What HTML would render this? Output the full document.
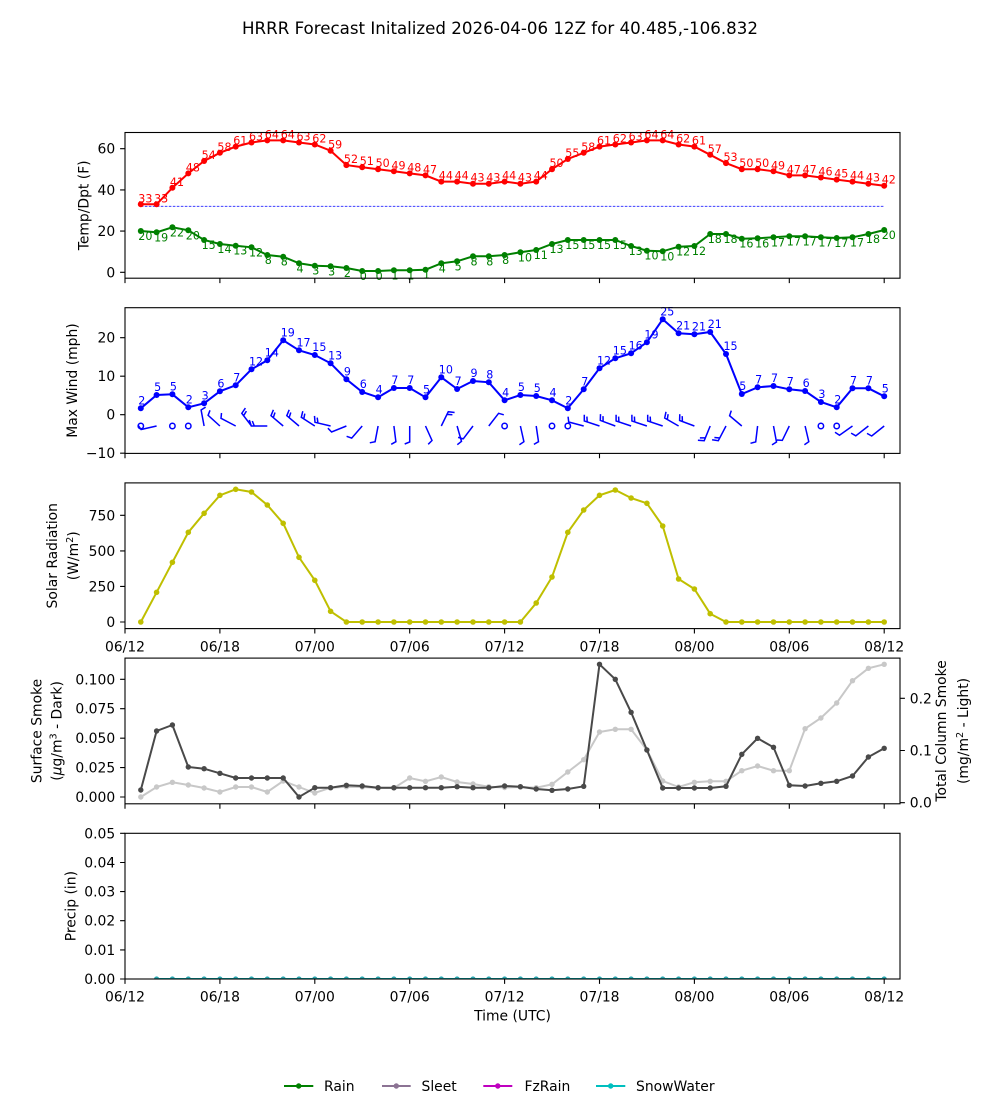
<!DOCTYPE html>
<html><head><meta charset="utf-8"><style>
html,body{margin:0;padding:0;background:#fff;}
svg{display:block;font-family:"DejaVu Sans","Liberation Sans",sans-serif;}
.tk{font-size:13.9px;fill:#000;}
.an{font-size:11.1px;}
</style></head><body>
<svg width="1000" height="1100" viewBox="0 0 1000 1100" xmlns="http://www.w3.org/2000/svg">
<defs>
<marker id="mR" viewBox="-4 -4 8 8" refX="0" refY="0" markerWidth="8" markerHeight="8" markerUnits="userSpaceOnUse"><circle r="3" fill="#ff0000"/></marker>
<marker id="mG" viewBox="-4 -4 8 8" refX="0" refY="0" markerWidth="8" markerHeight="8" markerUnits="userSpaceOnUse"><circle r="3" fill="#008000"/></marker>
<marker id="mB" viewBox="-4 -4 8 8" refX="0" refY="0" markerWidth="8" markerHeight="8" markerUnits="userSpaceOnUse"><circle r="3" fill="#0000ff"/></marker>
<marker id="mY" viewBox="-4 -4 8 8" refX="0" refY="0" markerWidth="8" markerHeight="8" markerUnits="userSpaceOnUse"><circle r="2.8" fill="#bfbf00"/></marker>
<marker id="mD" viewBox="-4 -4 8 8" refX="0" refY="0" markerWidth="8" markerHeight="8" markerUnits="userSpaceOnUse"><circle r="2.7" fill="#494949"/></marker>
<marker id="mL" viewBox="-4 -4 8 8" refX="0" refY="0" markerWidth="8" markerHeight="8" markerUnits="userSpaceOnUse"><circle r="2.7" fill="#c8c8c8"/></marker>
<marker id="mC" viewBox="-4 -4 8 8" refX="0" refY="0" markerWidth="8" markerHeight="8" markerUnits="userSpaceOnUse"><circle r="2.6" fill="#2aa7b0"/></marker>
<clipPath id="c5"><rect x="125" y="833.3" width="775" height="145.7"/></clipPath>
</defs>
<rect width="1000" height="1100" fill="#fff"/>

<text x="500" y="34" text-anchor="middle" font-size="16.67px">HRRR Forecast Initalized 2026-04-06 12Z for 40.485,-106.832</text>

<!-- ===== Panel 1 ===== -->
<line x1="140.8" y1="206.3" x2="884.2" y2="206.3" stroke="#2020ff" stroke-width="0.8" stroke-dasharray="2.6,1.4"/>
<polyline fill="none" stroke="#ff0000" stroke-width="2" marker-start="url(#mR)" marker-mid="url(#mR)" marker-end="url(#mR)" points="140.8,204.3 156.6,204.3 172.4,187.8 188.3,173.4 204.1,161.0 219.9,152.8 235.7,146.6 251.5,142.5 267.3,140.4 283.2,140.4 299.0,142.5 314.8,144.5 330.6,150.7 346.4,165.1 362.2,167.2 378.1,169.2 393.9,171.3 409.7,173.4 425.5,175.4 441.3,181.6 457.1,181.6 473.0,183.7 488.8,183.7 504.6,181.6 520.4,183.7 536.2,181.6 552.0,169.2 567.8,159.0 583.7,152.8 599.5,146.6 615.3,144.5 631.1,142.5 646.9,140.4 662.7,140.4 678.6,144.5 694.4,146.6 710.2,154.8 726.0,163.1 741.8,169.2 757.6,169.2 773.5,171.3 789.3,175.4 805.1,175.4 820.9,177.5 836.7,179.6 852.5,181.6 868.4,183.7 884.2,185.7"/>
<polyline fill="none" stroke="#008000" stroke-width="2" marker-start="url(#mG)" marker-mid="url(#mG)" marker-end="url(#mG)" points="140.8,231 156.6,232.3 172.4,227.3 188.3,230.3 204.1,240 219.9,244 235.7,245.7 251.5,247.3 267.3,255 283.2,256.7 299.0,263.3 314.8,265.7 330.6,266.3 346.4,268 362.2,271 378.1,271 393.9,270.3 409.7,270.3 425.5,269.7 441.3,263.3 457.1,261.3 473.0,256.3 488.8,256.3 504.6,255 520.4,252.3 536.2,250 552.0,244 567.8,240 583.7,240 599.5,240 615.3,240 631.1,246 646.9,250.7 662.7,251.3 678.6,246.7 694.4,246 710.2,234 726.0,234 741.8,238.7 757.6,238.3 773.5,237.3 789.3,236.3 805.1,236.3 820.9,237.3 836.7,238 852.5,237.3 868.4,234 884.2,230"/>
<g class="an" fill="#ff0000">
<text x="138.3" y="202.3">33</text><text x="154.1" y="202.3">33</text><text x="169.9" y="185.8">41</text><text x="185.8" y="171.4">48</text><text x="201.6" y="159.0">54</text><text x="217.4" y="150.8">58</text><text x="233.2" y="144.6">61</text><text x="249.0" y="140.5">63</text><text x="264.8" y="138.4">64</text><text x="280.7" y="138.4">64</text><text x="296.5" y="140.5">63</text><text x="312.3" y="142.5">62</text><text x="328.1" y="148.7">59</text><text x="343.9" y="163.1">52</text><text x="359.7" y="165.2">51</text><text x="375.6" y="167.2">50</text><text x="391.4" y="169.3">49</text><text x="407.2" y="171.4">48</text><text x="423.0" y="173.4">47</text><text x="438.8" y="179.6">44</text><text x="454.6" y="179.6">44</text><text x="470.5" y="181.7">43</text><text x="486.3" y="181.7">43</text><text x="502.1" y="179.6">44</text><text x="517.9" y="181.7">43</text><text x="533.7" y="179.6">44</text><text x="549.5" y="167.2">50</text><text x="565.3" y="157.0">55</text><text x="581.2" y="150.8">58</text><text x="597.0" y="144.6">61</text><text x="612.8" y="142.5">62</text><text x="628.6" y="140.5">63</text><text x="644.4" y="138.4">64</text><text x="660.2" y="138.4">64</text><text x="676.1" y="142.5">62</text><text x="691.9" y="144.6">61</text><text x="707.7" y="152.8">57</text><text x="723.5" y="161.1">53</text><text x="739.3" y="167.2">50</text><text x="755.1" y="167.2">50</text><text x="771.0" y="169.3">49</text><text x="786.8" y="173.4">47</text><text x="802.6" y="173.4">47</text><text x="818.4" y="175.5">46</text><text x="834.2" y="177.6">45</text><text x="850.0" y="179.6">44</text><text x="865.9" y="181.7">43</text><text x="881.7" y="183.7">42</text>
</g>
<g class="an" fill="#008000">
<text x="138.3" y="240">20</text><text x="154.1" y="241.3">19</text><text x="169.9" y="236.3">22</text><text x="185.8" y="239.3">20</text><text x="201.6" y="249">15</text><text x="217.4" y="253">14</text><text x="233.2" y="254.7">13</text><text x="249.0" y="256.3">12</text><text x="264.8" y="264">8</text><text x="280.7" y="265.7">8</text><text x="296.5" y="272.3">4</text><text x="312.3" y="274.7">3</text><text x="328.1" y="275.3">3</text><text x="343.9" y="277">2</text><text x="359.7" y="280">0</text><text x="375.6" y="280">0</text><text x="391.4" y="279.3">1</text><text x="407.2" y="279.3">1</text><text x="423.0" y="278.7">1</text><text x="438.8" y="272.3">4</text><text x="454.6" y="270.3">5</text><text x="470.5" y="265.3">8</text><text x="486.3" y="265.3">8</text><text x="502.1" y="264">8</text><text x="517.9" y="261.3">10</text><text x="533.7" y="259">11</text><text x="549.5" y="253">13</text><text x="565.3" y="249">15</text><text x="581.2" y="249">15</text><text x="597.0" y="249">15</text><text x="612.8" y="249">15</text><text x="628.6" y="255">13</text><text x="644.4" y="259.7">10</text><text x="660.2" y="260.3">10</text><text x="676.1" y="255.7">12</text><text x="691.9" y="255">12</text><text x="707.7" y="243">18</text><text x="723.5" y="243">18</text><text x="739.3" y="247.7">16</text><text x="755.1" y="247.3">16</text><text x="771.0" y="246.3">17</text><text x="786.8" y="245.3">17</text><text x="802.6" y="245.3">17</text><text x="818.4" y="246.3">17</text><text x="834.2" y="247">17</text><text x="850.0" y="246.3">17</text><text x="865.9" y="243">18</text><text x="881.7" y="239">20</text>
</g>
<rect x="125" y="132.5" width="775" height="145.7" fill="none" stroke="#000" stroke-width="1.1"/>
<path stroke="#000" stroke-width="1.1" d="M120.1,272.3H125M120.1,231.1H125M120.1,189.9H125M120.1,148.7H125 M125,278.2v4.9M219.9,278.2v4.9M314.8,278.2v4.9M409.7,278.2v4.9M504.6,278.2v4.9M599.5,278.2v4.9M694.4,278.2v4.9M789.3,278.2v4.9M884.2,278.2v4.9"/>
<g class="tk" text-anchor="end"><text x="115.2" y="277.3">0</text><text x="115.2" y="236.1">20</text><text x="115.2" y="194.9">40</text><text x="115.2" y="153.7">60</text></g>
<text class="tk" transform="translate(88.6,205.35) rotate(-90)" text-anchor="middle">Temp/Dpt (F)</text>

<!-- ===== Panel 2 ===== -->
<polyline fill="none" stroke="#0000ff" stroke-width="2" marker-start="url(#mB)" marker-mid="url(#mB)" marker-end="url(#mB)" points="140.8,408.3 156.6,395 172.4,394.3 188.3,407.3 204.1,403.3 219.9,391.3 235.7,385.3 251.5,369.3 267.3,360.3 283.2,340.3 299.0,350.3 314.8,355 330.6,363.3 346.4,379.3 362.2,392 378.1,397.3 393.9,388 409.7,388 425.5,397.3 441.3,377.3 457.1,389 473.0,381 488.8,382.3 504.6,400.3 520.4,395 536.2,396 552.0,400.3 567.8,408.3 583.7,389.3 599.5,368.3 615.3,358.3 631.1,353.3 646.9,342.3 662.7,319.3 678.6,333.3 694.4,334.3 710.2,332 726.0,354 741.8,394 757.6,387.3 773.5,386 789.3,389.3 805.1,391 820.9,402 836.7,407.3 852.5,388.3 868.4,388.3 884.2,396.3"/>
<g class="an" fill="#0000ff">
<text x="138.3" y="404.3">2</text><text x="154.1" y="391">5</text><text x="169.9" y="390.3">5</text><text x="185.8" y="403.3">2</text><text x="201.6" y="399.3">3</text><text x="217.4" y="387.3">6</text><text x="233.2" y="381.3">7</text><text x="249.0" y="365.3">12</text><text x="264.8" y="356.3">14</text><text x="280.7" y="336.3">19</text><text x="296.5" y="346.3">17</text><text x="312.3" y="351">15</text><text x="328.1" y="359.3">13</text><text x="343.9" y="375.3">9</text><text x="359.7" y="388">6</text><text x="375.6" y="393.3">4</text><text x="391.4" y="384">7</text><text x="407.2" y="384">7</text><text x="423.0" y="393.3">5</text><text x="438.8" y="373.3">10</text><text x="454.6" y="385">7</text><text x="470.5" y="377">9</text><text x="486.3" y="378.3">8</text><text x="502.1" y="396.3">4</text><text x="517.9" y="391">5</text><text x="533.7" y="392">5</text><text x="549.5" y="396.3">4</text><text x="565.3" y="404.3">2</text><text x="581.2" y="385.3">7</text><text x="597.0" y="364.3">12</text><text x="612.8" y="354.3">15</text><text x="628.6" y="349.3">16</text><text x="644.4" y="338.3">19</text><text x="660.2" y="315.3">25</text><text x="676.1" y="329.3">21</text><text x="691.9" y="330.3">21</text><text x="707.7" y="328">21</text><text x="723.5" y="350">15</text><text x="739.3" y="390">5</text><text x="755.1" y="383.3">7</text><text x="771.0" y="382">7</text><text x="786.8" y="385.3">7</text><text x="802.6" y="387">6</text><text x="818.4" y="398">3</text><text x="834.2" y="403.3">2</text><text x="850.0" y="384.3">7</text><text x="865.9" y="384.3">7</text><text x="881.7" y="392.3">5</text>
</g>
<!-- wind barbs -->
<g fill="none" stroke="#0000ff" stroke-width="1.5">
<circle cx="140.8" cy="426" r="2.7"/><circle cx="172.4" cy="426" r="2.7"/><circle cx="188.3" cy="426" r="2.7"/><circle cx="504.6" cy="426" r="2.7"/><circle cx="552.0" cy="426" r="2.7"/><circle cx="567.8" cy="426" r="2.7"/><circle cx="820.9" cy="426" r="2.7"/><circle cx="836.7" cy="426" r="2.7"/>
<path d="
M156.6,426L141.1,429.5L138.0,425.0
M204.1,426L201.1,410L205.6,407.1
M219.9,426L208.1,415.3L210.0,410.3
M235.7,426L221.0,418.3L221.5,413.0
M251.5,426L241.8,413.3L245.4,408.1M243.6,415.7L246.4,411.1
M267.3,426L251.3,426L249.3,420M254.3,426L252.3,421
M283.2,426L271.0,415.7L273.4,409.8M273.3,417.6L275.0,412.5
M299.0,426L286.8,415.7L289.2,409.8M289.1,417.6L290.8,412.5
M314.8,426L301.3,417.3L302.8,411.2M303.8,418.9L304.8,413.6
M330.6,426L315.0,422.3L314.5,415.9M317.9,423.0L317.2,417.6
M346.4,426L331.6,432L327.9,428.2
M362.2,426L351.7,438.1L346.6,436.3
M378.1,426L375.1,441.7L369.8,442.8
M393.9,426L395.9,441.7L391.2,444.3
M409.7,426L409.7,442L404.7,444
M425.5,426L432.0,440.5L428.2,444.3
M441.3,426L448.3,411.7L454.6,412.5M447.0,414.4L452.4,414.8
M457.1,426L461.5,441.4L457.3,444.7
M473.0,426L463.3,438.8L458.1,437.4
M488.8,426L498.6,413.3L503.8,414.8
M520.4,426L523.9,441.7L519.4,444.8
M536.2,426L538.5,441.7L533.9,444.4
M583.7,426L568.7,422L568.1,416.7
M599.5,426L584.3,421L584.3,414.7M587.2,421.9L586.9,416.6
M615.3,426L600.3,420.4L600.5,414.1M603.1,421.5L603.0,416.1
M631.1,426L616.1,421L616.1,414.7M618.9,421.9L618.6,416.6
M646.9,426L631.9,421L631.9,414.7M634.7,421.9L634.4,416.6
M662.7,426L647.7,421L647.7,414.7M650.5,421.9L650.2,416.6
M678.6,426L664.7,418L666.0,411.8M667.3,419.5L668.1,414.2
M694.4,426L679.6,420.5L679.8,414.2M682.4,421.5L682.2,416.1
M710.2,426L704.2,440.7L697.9,440.3M705.3,437.9L699.9,437.9
M726.0,426L718.3,440.7L712.1,439.7M719.7,438.0L714.4,437.5
M741.8,426L729.6,415.7L731.3,410.6
M757.6,426L755.7,441.9L750.5,443.3
M773.5,426L776.5,442L772.0,444.9
M789.3,426L782.3,440.4L776.9,440.0
M805.1,426L808.8,441.7L804.4,444.7
M852.5,426L839.5,435.2L835.0,432.3
M868.4,426L855.8,435.8L851.1,433.1
M884.2,426L871.7,436L867.0,433.4"/>
</g>
<rect x="125" y="307.7" width="775" height="145.7" fill="none" stroke="#000" stroke-width="1.1"/>
<path stroke="#000" stroke-width="1.1" d="M120.1,453.2H125M120.1,414.7H125M120.1,376.2H125M120.1,337.7H125 M125,453.4v4.9M219.9,453.4v4.9M314.8,453.4v4.9M409.7,453.4v4.9M504.6,453.4v4.9M599.5,453.4v4.9M694.4,453.4v4.9M789.3,453.4v4.9M884.2,453.4v4.9"/>
<g class="tk" text-anchor="end"><text x="115.2" y="458.2">−10</text><text x="115.2" y="419.7">0</text><text x="115.2" y="381.2">10</text><text x="115.2" y="342.7">20</text></g>
<text class="tk" transform="translate(77,380.55) rotate(-90)" text-anchor="middle">Max Wind (mph)</text>

<!-- ===== Panel 3 ===== -->
<polyline fill="none" stroke="#bfbf00" stroke-width="2" marker-start="url(#mY)" marker-mid="url(#mY)" marker-end="url(#mY)" points="140.8,622 156.6,592.3 172.4,562.3 188.3,532.3 204.1,513.3 219.9,495.3 235.7,489.3 251.5,492 267.3,505 283.2,523.3 299.0,557.3 314.8,580.3 330.6,611.3 346.4,622 362.2,622 378.1,622 393.9,622 409.7,622 425.5,622 441.3,622 457.1,622 473.0,622 488.8,622 504.6,622 520.4,622 536.2,603 552.0,577 567.8,532.3 583.7,510 599.5,495.3 615.3,490 631.1,498 646.9,503.3 662.7,526 678.6,579 694.4,589 710.2,613.7 726.0,622 741.8,622 757.6,622 773.5,622 789.3,622 805.1,622 820.9,622 836.7,622 852.5,622 868.4,622 884.2,622"/>
<rect x="125" y="482.9" width="775" height="145.7" fill="none" stroke="#000" stroke-width="1.1"/>
<path stroke="#000" stroke-width="1.1" d="M120.1,622H125M120.1,586.4H125M120.1,550.9H125M120.1,515.3H125 M125,628.6v4.9M219.9,628.6v4.9M314.8,628.6v4.9M409.7,628.6v4.9M504.6,628.6v4.9M599.5,628.6v4.9M694.4,628.6v4.9M789.3,628.6v4.9M884.2,628.6v4.9"/>
<g class="tk" text-anchor="end"><text x="115.2" y="627">0</text><text x="115.2" y="591.4">250</text><text x="115.2" y="555.9">500</text><text x="115.2" y="520.3">750</text></g>
<g class="tk" text-anchor="middle"><text x="125" y="651.3">06/12</text><text x="219.9" y="651.3">06/18</text><text x="314.8" y="651.3">07/00</text><text x="409.7" y="651.3">07/06</text><text x="504.6" y="651.3">07/12</text><text x="599.5" y="651.3">07/18</text><text x="694.4" y="651.3">08/00</text><text x="789.3" y="651.3">08/06</text><text x="884.2" y="651.3">08/12</text></g>
<text class="tk" transform="translate(57.1,555.75) rotate(-90)" text-anchor="middle">Solar Radiation</text>
<text class="tk" transform="translate(77.8,555.75) rotate(-90)" text-anchor="middle">(W/m<tspan font-size="9.7px" dy="-5">2</tspan><tspan dy="5">)</tspan></text>

<!-- ===== Panel 4 ===== -->
<polyline fill="none" stroke="#c8c8c8" stroke-width="2" marker-start="url(#mL)" marker-mid="url(#mL)" marker-end="url(#mL)" points="140.8,797 156.6,787 172.4,782.3 188.3,785 204.1,788 219.9,792 235.7,787 251.5,787 267.3,792 283.2,781 299.0,787 314.8,793 330.6,787.7 346.4,786.7 362.2,787 378.1,788 393.9,788 409.7,778 425.5,781.3 441.3,777 457.1,782 473.0,784 488.8,786.7 504.6,787.5 520.4,787 536.2,787.7 552.0,784.3 567.8,772 583.7,759.7 599.5,732 615.3,729.3 631.1,729.3 646.9,750 662.7,781 678.6,787 694.4,782.3 710.2,781.3 726.0,781.3 741.8,770.7 757.6,766 773.5,770.7 789.3,770.7 805.1,728.7 820.9,718 836.7,703 852.5,680.7 868.4,668.3 884.2,664.3"/>
<polyline fill="none" stroke="#494949" stroke-width="2" marker-start="url(#mD)" marker-mid="url(#mD)" marker-end="url(#mD)" points="140.8,790 156.6,731 172.4,725 188.3,767 204.1,768.7 219.9,773.3 235.7,778 251.5,778 267.3,778 283.2,778 299.0,797 314.8,787.7 330.6,787.7 346.4,785.3 362.2,786 378.1,787.7 393.9,787.7 409.7,787.7 425.5,787.7 441.3,787.7 457.1,786.7 473.0,787.7 488.8,787.7 504.6,786 520.4,786.7 536.2,789 552.0,790.3 567.8,789 583.7,786.3 599.5,664.3 615.3,679.3 631.1,712.3 646.9,750 662.7,788 678.6,788 694.4,788 710.2,788 726.0,786.3 741.8,754.3 757.6,738.3 773.5,747.3 789.3,785.3 805.1,786 820.9,783.3 836.7,781.3 852.5,776 868.4,757 884.2,748.3"/>
<rect x="125" y="658.1" width="775" height="145.7" fill="none" stroke="#000" stroke-width="1.1"/>
<path stroke="#000" stroke-width="1.1" d="M120.1,797H125M120.1,767.6H125M120.1,738.2H125M120.1,708.7H125M120.1,679.3H125 M900,802.7h4.9M900,750.5h4.9M900,698.3h4.9 M125,803.8v4.9M219.9,803.8v4.9M314.8,803.8v4.9M409.7,803.8v4.9M504.6,803.8v4.9M599.5,803.8v4.9M694.4,803.8v4.9M789.3,803.8v4.9M884.2,803.8v4.9"/>
<g class="tk" text-anchor="end"><text x="115.2" y="802">0.000</text><text x="115.2" y="772.6">0.025</text><text x="115.2" y="743.2">0.050</text><text x="115.2" y="713.7">0.075</text><text x="115.2" y="684.3">0.100</text></g>
<g class="tk"><text x="909.8" y="807.7">0.0</text><text x="909.8" y="755.5">0.1</text><text x="909.8" y="703.3">0.2</text></g>
<text class="tk" transform="translate(41.5,730.95) rotate(-90)" text-anchor="middle">Surface Smoke</text>
<text class="tk" transform="translate(61.5,730.95) rotate(-90)" text-anchor="middle">(<tspan font-style="italic">μ</tspan>g/m<tspan font-size="9.7px" dy="-5">3</tspan><tspan dy="5"> - Dark)</tspan></text>
<text class="tk" transform="translate(945.8,730.95) rotate(-90)" text-anchor="middle">Total Column Smoke</text>
<text class="tk" transform="translate(967.8,730.95) rotate(-90)" text-anchor="middle">(mg/m<tspan font-size="9.7px" dy="-5">2</tspan><tspan dy="5"> - Light)</tspan></text>

<!-- ===== Panel 5 ===== -->
<g clip-path="url(#c5)">
<polyline fill="none" stroke="#008000" stroke-width="2" points="156.6,979 884.2,979"/>
<polyline fill="none" stroke="#00bfbf" stroke-width="2" marker-start="url(#mC)" marker-mid="url(#mC)" marker-end="url(#mC)" points="156.6,979 172.4,979 188.3,979 204.1,979 219.9,979 235.7,979 251.5,979 267.3,979 283.2,979 299.0,979 314.8,979 330.6,979 346.4,979 362.2,979 378.1,979 393.9,979 409.7,979 425.5,979 441.3,979 457.1,979 473.0,979 488.8,979 504.6,979 520.4,979 536.2,979 552.0,979 567.8,979 583.7,979 599.5,979 615.3,979 631.1,979 646.9,979 662.7,979 678.6,979 694.4,979 710.2,979 726.0,979 741.8,979 757.6,979 773.5,979 789.3,979 805.1,979 820.9,979 836.7,979 852.5,979 868.4,979 884.2,979"/>
</g>
<rect x="125" y="833.3" width="775" height="145.7" fill="none" stroke="#000" stroke-width="1.1"/>
<path stroke="#000" stroke-width="1.1" d="M120.1,979H125M120.1,949.9H125M120.1,920.7H125M120.1,891.6H125M120.1,862.5H125M120.1,833.3H125 M125,979v4.9M219.9,979v4.9M314.8,979v4.9M409.7,979v4.9M504.6,979v4.9M599.5,979v4.9M694.4,979v4.9M789.3,979v4.9M884.2,979v4.9"/>
<g class="tk" text-anchor="end"><text x="115.2" y="984">0.00</text><text x="115.2" y="954.9">0.01</text><text x="115.2" y="925.7">0.02</text><text x="115.2" y="896.6">0.03</text><text x="115.2" y="867.5">0.04</text><text x="115.2" y="838.3">0.05</text></g>
<g class="tk" text-anchor="middle"><text x="125" y="1001.7">06/12</text><text x="219.9" y="1001.7">06/18</text><text x="314.8" y="1001.7">07/00</text><text x="409.7" y="1001.7">07/06</text><text x="504.6" y="1001.7">07/12</text><text x="599.5" y="1001.7">07/18</text><text x="694.4" y="1001.7">08/00</text><text x="789.3" y="1001.7">08/06</text><text x="884.2" y="1001.7">08/12</text></g>
<text class="tk" transform="translate(75.6,906.15) rotate(-90)" text-anchor="middle">Precip (in)</text>
<text class="tk" x="512.5" y="1020.5" text-anchor="middle">Time (UTC)</text>

<!-- ===== Legend ===== -->
<g stroke-width="2">
<line x1="284" y1="1086" x2="313.3" y2="1086" stroke="#008000"/><circle cx="298.7" cy="1086" r="2.7" fill="#008000" stroke="none"/>
<line x1="382" y1="1086" x2="410.7" y2="1086" stroke="#8c7394"/><circle cx="396.3" cy="1086" r="2.7" fill="#8c7394" stroke="none"/>
<line x1="483.3" y1="1086" x2="512.3" y2="1086" stroke="#bf00bf"/><circle cx="497.8" cy="1086" r="2.7" fill="#bf00bf" stroke="none"/>
<line x1="596" y1="1086" x2="625.3" y2="1086" stroke="#00bfbf"/><circle cx="610.7" cy="1086" r="2.7" fill="#00bfbf" stroke="none"/>
</g>
<g class="tk"><text x="324" y="1091">Rain</text><text x="421.5" y="1091">Sleet</text><text x="524.5" y="1091">FzRain</text><text x="636" y="1091">SnowWater</text></g>
</svg>
</body></html>
